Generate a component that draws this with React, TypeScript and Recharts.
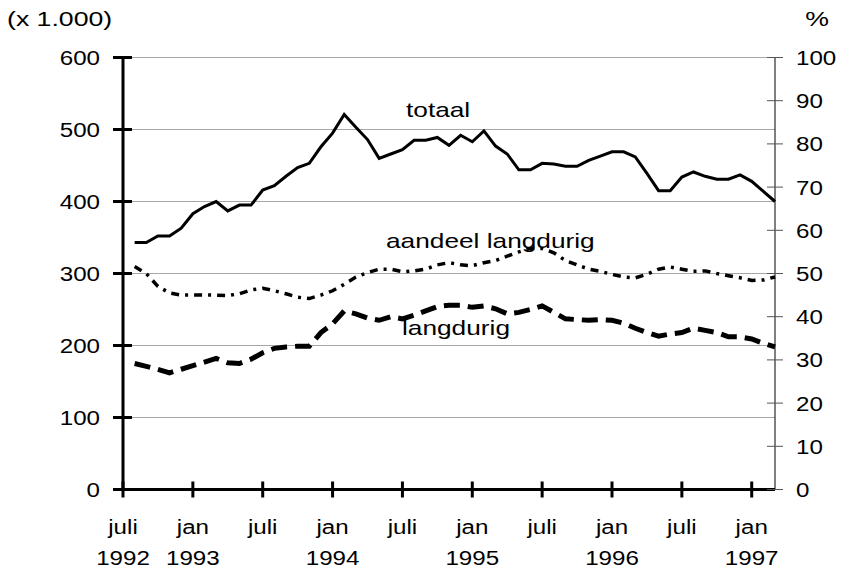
import React from "react";
import { LineChart, Line, XAxis, YAxis, CartesianGrid } from "recharts";

// maanden, juli 1992 t/m maart 1997 (juli 1992 zelf heeft geen waarde)
const months = [
  "1992-07", "1992-08", "1992-09", "1992-10", "1992-11", "1992-12",
  "1993-01", "1993-02", "1993-03", "1993-04", "1993-05", "1993-06",
  "1993-07", "1993-08", "1993-09", "1993-10", "1993-11", "1993-12",
  "1994-01", "1994-02", "1994-03", "1994-04", "1994-05", "1994-06",
  "1994-07", "1994-08", "1994-09", "1994-10", "1994-11", "1994-12",
  "1995-01", "1995-02", "1995-03", "1995-04", "1995-05", "1995-06",
  "1995-07", "1995-08", "1995-09", "1995-10", "1995-11", "1995-12",
  "1996-01", "1996-02", "1996-03", "1996-04", "1996-05", "1996-06",
  "1996-07", "1996-08", "1996-09", "1996-10", "1996-11", "1996-12",
  "1997-01", "1997-02", "1997-03",
];

// x 1.000, vanaf augustus 1992
const totaal = [
  343, 343, 352, 352, 363, 383, 393, 400, 387, 395, 395, 416, 422, 435, 447,
  453, 476, 495, 521, 503, 486, 460, 466, 472, 485, 485, 489, 478, 492, 483,
  498, 477, 466, 444, 444, 453, 452, 449, 449, 457, 463, 469, 469, 462, 439,
  415, 415, 434, 441, 435, 431, 431, 437, 428, 414, 400,
];

const langdurig = [
  175, 171, 167, 162, 167, 172, 177, 182, 176, 175, 181, 190, 196, 198, 199,
  199, 218, 230, 248, 244, 238, 235, 240, 237, 242, 248, 254, 256, 256, 253,
  255, 251, 244, 246, 250, 255, 246, 237, 236, 235, 236, 235, 231, 224, 218,
  213, 216, 218, 224, 221, 218, 212, 212, 209, 203, 198,
];

// procent
const aandeel = [
  51.6, 50, 47, 45.5, 45, 45, 45, 45, 44.9, 45.3, 46.2, 46.6, 46, 45.3, 44.5,
  44.2, 45, 46, 47.5, 49.2, 50.2, 51, 51, 50.4, 50.6, 51, 52, 52.5, 52, 51.8,
  52.5, 53, 54, 55, 55.8, 55.8, 54.8, 53, 52, 51, 50.5, 49.8, 49.2, 49, 49.8,
  51, 51.5, 51, 50.5, 50.6, 50, 49.5, 49, 48.4, 48.5, 49.2,
];

const leftTicks = [0, 100, 200, 300, 400, 500, 600];
const rightTicks = [0, 10, 20, 30, 40, 50, 60, 70, 80, 90, 100];
const monthNames: Record<string, string> = { "01": "jan", "07": "juli" };

const data = months.map((m, i) => ({
  m,
  totaal: i === 0 ? null : totaal[i - 1],
  langdurig: i === 0 ? null : langdurig[i - 1],
  aandeel: i === 0 ? null : aandeel[i - 1],
}));

const FONT = "'Liberation Sans', Arial, sans-serif";
const FS = 21;

// tekst in het origineel is wat breder uitgerekt
const T = ({ x, y, sx = 1.15, anchor = "start", children }: any) => (
  <text
    transform={`translate(${x},${y}) scale(${sx},1)`}
    textAnchor={anchor}
    fontFamily={FONT}
    fontSize={FS}
    fill="#000"
  >
    {children}
  </text>
);

const XTick = (props: any) => {
  const { x, y, payload } = props;
  const [yr, mo] = String(payload.value).split("-");
  const showYear = mo === "01" || payload.value === months[0];
  return (
    <g>
      <line x1={x} x2={x} y1={y - 8} y2={y + 8} stroke="#000" strokeWidth={3} />
      <T x={x} y={y + 44.5} anchor="middle">{monthNames[mo]}</T>
      {showYear && <T x={x} y={y + 75} anchor="middle">{yr}</T>}
    </g>
  );
};

const LeftTick = (props: any) => {
  const { x, y, payload } = props;
  return (
    <g>
      <line x1={x - 10} x2={x + 9} y1={y} y2={y} stroke="#000" strokeWidth={3} />
      <T x={x - 23} y={y + 7.5} anchor="end">{payload.value}</T>
    </g>
  );
};

const RightTick = (props: any) => {
  const { x, y, payload } = props;
  return (
    <g>
      <line x1={x - 8} x2={x + 8} y1={y} y2={y} stroke="#555" strokeWidth={1} />
      <T x={x + 21} y={y + 7.5}>{payload.value}</T>
    </g>
  );
};

export default function App() {
  return (
    <div style={{ position: "absolute", left: 0, top: 0, width: 841, height: 569, background: "#fff" }}>
      <LineChart
        width={841}
        height={569}
        data={data}
        margin={{ top: 57.5, right: 0, bottom: 0, left: 0 }}
      >
        <CartesianGrid yAxisId="left" vertical={false} stroke="#a6a6a6" />
        <XAxis
          dataKey="m"
          interval={5}
          height={79.5}
          tickSize={0}
          tickMargin={0}
          tickLine={false}
          axisLine={{ stroke: "#000", strokeWidth: 3 }}
          tick={<XTick />}
        />
        <YAxis
          yAxisId="left"
          domain={[0, 600]}
          ticks={leftTicks}
          width={123}
          tickSize={0}
          tickMargin={0}
          tickLine={false}
          axisLine={{ stroke: "#000", strokeWidth: 3 }}
          tick={<LeftTick />}
        />
        <YAxis
          yAxisId="right"
          orientation="right"
          domain={[0, 100]}
          ticks={rightTicks}
          width={66}
          tickSize={0}
          tickMargin={0}
          tickLine={false}
          axisLine={{ stroke: "#000", strokeWidth: 1 }}
          tick={<RightTick />}
        />
        <Line
          yAxisId="left"
          dataKey="totaal"
          type="linear"
          stroke="#000"
          strokeWidth={3}
          dot={false}
          isAnimationActive={false}
        />
        <Line
          yAxisId="left"
          dataKey="langdurig"
          type="linear"
          stroke="#000"
          strokeWidth={5}
          strokeDasharray="16 8"
          dot={false}
          isAnimationActive={false}
        />
        <Line
          yAxisId="right"
          dataKey="aandeel"
          type="linear"
          stroke="#000"
          strokeWidth={3.5}
          strokeDasharray="8 6 3 6"
          dot={false}
          isAnimationActive={false}
        />
      </LineChart>
      <svg
        width={841}
        height={569}
        style={{ position: "absolute", left: 0, top: 0, pointerEvents: "none" }}
      >
        <T x={7} y={26} sx={1.27}>(x 1.000)</T>
        <T x={829} y={26} sx={1.27} anchor="end">%</T>
        <T x={406} y={117} sx={1.25}>totaal</T>
        <T x={386} y={248} sx={1.25}>aandeel langdurig</T>
        <T x={402} y={335} sx={1.25}>langdurig</T>
      </svg>
    </div>
  );
}
